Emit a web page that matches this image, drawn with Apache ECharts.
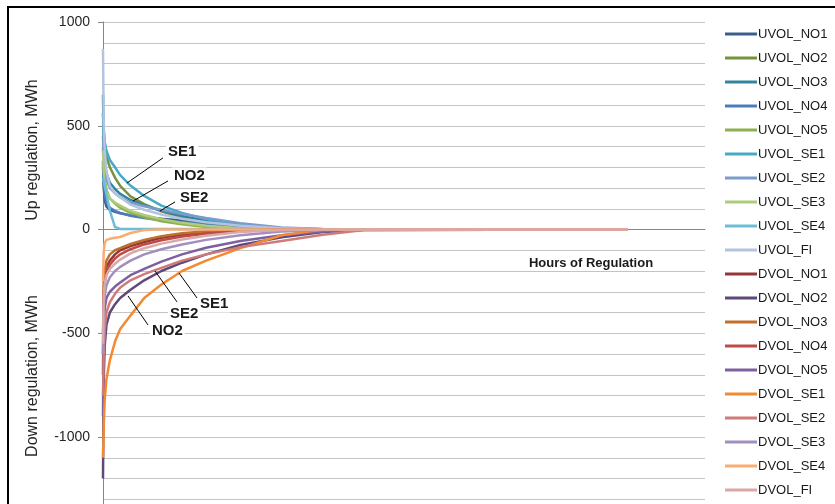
<!DOCTYPE html>
<html>
<head>
<meta charset="utf-8">
<script src="https://cdn.jsdelivr.net/npm/echarts@6/dist/echarts.min.js"></script>
<style>
  html, body { margin: 0; padding: 0; background: #fff; }
  #chart { width: 835px; height: 504px; }
</style>
</head>
<body>
<div id="chart"></div>
<script>
// hours of regulation (sorted duration curves)
const hours = [0, 10, 25, 50, 100, 175, 250, 400, 600, 850, 1150, 1500, 2000, 2600, 3200, 3800, 7640]

// up regulation, MWh
const uvolNO1 = [330, 200, 140, 110, 95, 85, 78, 68, 60, 52, 43, 32, 18, 6, 1, 0, 0]
const uvolNO2 = [560, 480, 420, 350, 300, 250, 210, 160, 122, 88, 58, 32, 11, 2, 0, 0, 0]
const uvolNO3 = [650, 420, 330, 270, 225, 195, 172, 142, 116, 90, 65, 42, 20, 5, 0, 0, 0]
const uvolNO4 = [300, 220, 170, 130, 105, 90, 80, 66, 55, 45, 35, 25, 12, 3, 0, 0, 0]
const uvolNO5 = [400, 300, 240, 190, 150, 125, 105, 80, 60, 40, 25, 12, 4, 0, 0, 0, 0]
const uvolSE1 = [560, 470, 420, 380, 335, 300, 262, 212, 162, 115, 80, 50, 22, 5, 0, 0, 0]
const uvolSE2 = [450, 350, 290, 240, 200, 175, 155, 130, 112, 95, 75, 55, 30, 10, 2, 0, 0]
const uvolSE3 = [380, 280, 220, 180, 150, 130, 115, 90, 70, 50, 32, 18, 6, 1, 0, 0, 0]
const uvolSE4 = [250, 235, 210, 170, 90, 12, 3, 3, 3, 3, 3, 2, 2, 1, 0, 0, 0]
const uvolFI = [870, 520, 380, 280, 210, 175, 155, 120, 95, 72, 52, 35, 18, 6, 1, 0, 0]

// down regulation, MWh
const dvolNO1 = [-700, -300, -230, -180, -150, -120, -100, -80, -60, -40, -25, -13, -4, 0, 0, 0, 0]
const dvolNO2 = [-1200, -720, -560, -460, -400, -360, -330, -290, -245, -200, -160, -120, -75, -38, -12, -2, 0]
const dvolNO3 = [-600, -250, -200, -150, -120, -100, -90, -70, -50, -32, -18, -8, -2, 0, 0, 0, 0]
const dvolNO4 = [-500, -330, -260, -210, -170, -140, -120, -95, -72, -52, -34, -20, -7, -1, 0, 0, 0]
const dvolNO5 = [-900, -480, -380, -330, -300, -275, -255, -220, -190, -155, -120, -88, -55, -28, -10, 0, 0]
const dvolSE1 = [-1100, -950, -820, -720, -630, -540, -480, -415, -330, -265, -200, -150, -90, -28, 0, 0, 0]
const dvolSE2 = [-800, -600, -480, -400, -350, -310, -280, -245, -215, -185, -150, -120, -85, -55, -25, -2, 0]
const dvolSE3 = [-600, -380, -320, -270, -230, -200, -180, -150, -120, -95, -72, -50, -28, -10, -2, 0, 0]
const dvolSE4 = [-250, -110, -65, -50, -45, -40, -36, -17, -3, 0, 0, 0, 0, 0, 0, 0, 0]
const dvolFI = [-550, -320, -260, -220, -190, -165, -145, -115, -90, -68, -48, -30, -12, -3, 0, 0, 0]

const seriesList = [
    { name: 'UVOL_NO1', color: '#3a5f8f', data: uvolNO1 },
    { name: 'UVOL_NO2', color: '#77933c', data: uvolNO2 },
    { name: 'UVOL_NO3', color: '#31859c', data: uvolNO3 },
    { name: 'UVOL_NO4', color: '#4a7ebb', data: uvolNO4 },
    { name: 'UVOL_NO5', color: '#8db050', data: uvolNO5 },
    { name: 'UVOL_SE1', color: '#46aac5', data: uvolSE1 },
    { name: 'UVOL_SE2', color: '#7c9acc', data: uvolSE2 },
    { name: 'UVOL_SE3', color: '#afcb7c', data: uvolSE3 },
    { name: 'UVOL_SE4', color: '#6dbed5', data: uvolSE4 },
    { name: 'UVOL_FI', color: '#b3c3e0', data: uvolFI },
    { name: 'DVOL_NO1', color: '#953735', data: dvolNO1 },
    { name: 'DVOL_NO2', color: '#5f497a', data: dvolNO2 },
    { name: 'DVOL_NO3', color: '#c0702c', data: dvolNO3 },
    { name: 'DVOL_NO4', color: '#be4b48', data: dvolNO4 },
    { name: 'DVOL_NO5', color: '#7d60a0', data: dvolNO5 },
    { name: 'DVOL_SE1', color: '#f38a32', data: dvolSE1 },
    { name: 'DVOL_SE2', color: '#cf7b79', data: dvolSE2 },
    { name: 'DVOL_SE3', color: '#a28fbf', data: dvolSE3 },
    { name: 'DVOL_SE4', color: '#f9ac74', data: dvolSE4 },
    { name: 'DVOL_FI', color: '#d9a9a8', data: dvolFI }
]

// area labels: [hour, MWh] of the text and of the two ends of the leader line
const annotations = [
    { text: 'SE1', at: [917, 373], from: [873, 345], to: [349, 224] },
    { text: 'NO2', at: [1004, 258], from: [946, 234], to: [437, 137] },
    { text: 'SE2', at: [1091, 152], from: [1048, 133], to: [829, 89] },
    { text: 'SE1', at: [1382, -359], from: [1368, -330], to: [1106, -210] },
    { text: 'SE2', at: [946, -407], from: [1077, -349], to: [757, -200] },
    { text: 'NO2', at: [684, -489], from: [655, -460], to: [364, -320] }
]

const font = '"Liberation Sans", Arial, sans-serif'
const myChart = echarts.init(document.getElementById('chart'))

const option = {
    animation: false,
    backgroundColor: '#fff',
    legend: {
        orient: 'vertical',
        left: 725,
        top: 27,
        padding: 0,
        icon: 'rect',
        itemWidth: 32,
        itemHeight: 3,
        itemGap: 10,
        textStyle: { color: '#1a1a1a', fontSize: 13, fontFamily: font, lineHeight: 14, padding: [0, 0, 0, -4] },
        data: seriesList.map(s => s.name)
    },
    grid: { left: 103, top: 22, width: 602, height: 518.75, outerBoundsMode: 'none', containLabel: false },
    xAxis: {
        type: 'value',
        min: 0,
        max: 8760,
        axisLine: { onZero: true, lineStyle: { color: '#868686', width: 1 } },
        axisTick: { show: false },
        axisLabel: { show: false },
        splitLine: { show: false }
    },
    yAxis: {
        type: 'value',
        min: -1500,
        max: 1000,
        interval: 500,
        axisLine: { show: true, lineStyle: { color: '#868686' } },
        axisTick: { show: true, length: 5, lineStyle: { color: '#868686' } },
        axisLabel: { color: '#262626', fontSize: 14, fontFamily: font, margin: 13, formatter: v => String(v) },
        splitLine: { lineStyle: { color: '#c4c4c4' } },
        minorTick: { show: false, splitNumber: 5 },
        minorSplitLine: { show: true, lineStyle: { color: '#c4c4c4' } }
    },
    series: seriesList.map(s => ({
        name: s.name,
        type: 'line',
        symbol: 'none',
        color: s.color,
        lineStyle: { width: 2.5, color: s.color },
        data: hours.map((h, i) => [h, s.data[i]])
    }))
}
myChart.setOption(option)

// 轴标题、边框和区域标注
const graphic = [
    {
        type: 'rect', silent: true, z: 100,
        shape: { x: 8, y: 7, width: 900, height: 600 },
        style: { fill: 'none', stroke: '#000', lineWidth: 2 }
    },
    {
        type: 'text', x: 33, y: 150, rotation: Math.PI / 2,
        style: { text: 'Up regulation, MWh', font: '16px ' + font, fill: '#262626', align: 'center', verticalAlign: 'middle' }
    },
    {
        type: 'text', x: 33, y: 376, rotation: Math.PI / 2,
        style: { text: 'Down regulation, MWh', font: '16px ' + font, fill: '#262626', align: 'center', verticalAlign: 'middle' }
    },
    {
        type: 'text', x: 591, y: 263,
        style: { text: 'Hours of Regulation', font: 'bold 13px ' + font, fill: '#1a1a1a', align: 'center', verticalAlign: 'middle' }
    }
]
annotations.forEach(a => {
    const p = myChart.convertToPixel({ gridIndex: 0 }, a.at)
    const p1 = myChart.convertToPixel({ gridIndex: 0 }, a.from)
    const p2 = myChart.convertToPixel({ gridIndex: 0 }, a.to)
    graphic.push({
        type: 'line', z: 50,
        shape: { x1: p1[0], y1: p1[1], x2: p2[0], y2: p2[1] },
        style: { stroke: '#000', lineWidth: 1 }
    })
    graphic.push({
        type: 'text', z: 51, x: p[0], y: p[1],
        style: {
            text: a.text, font: 'bold 15px ' + font, fill: '#1a1a1a',
            align: 'left', verticalAlign: 'middle',
            backgroundColor: '#fff', padding: [1, 2]
        }
    })
})
myChart.setOption({ graphic: graphic })
</script>
</body>
</html>
